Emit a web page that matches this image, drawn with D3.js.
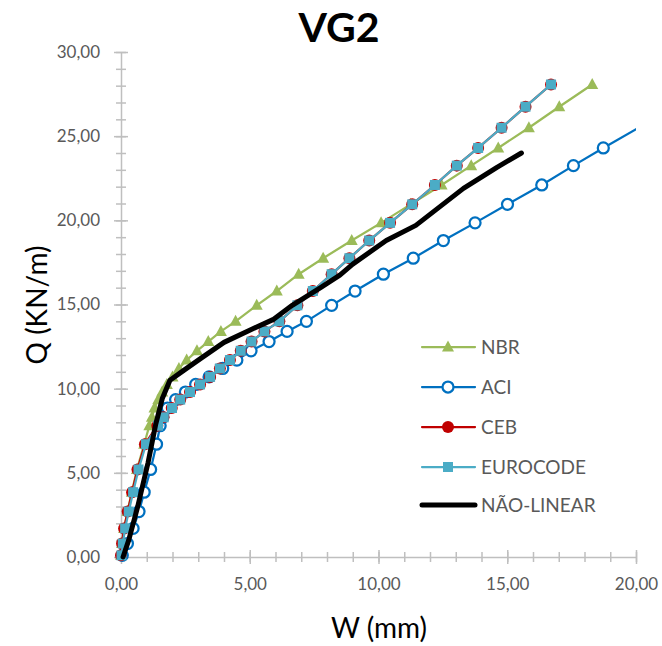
<!DOCTYPE html>
<html>
<head>
<meta charset="utf-8">
<script src="https://cdn.jsdelivr.net/npm/d3@7"></script>
<style>
  html, body { margin: 0; padding: 0; background: #fff; }
  svg { display: block; font-family: Lato, "Open Sans", sans-serif; }
</style>
</head>
<body>
<svg id="chart" width="662" height="646"></svg>
<script>
// ---- data ----
const loadQ = [0.1, 0.8, 1.7, 2.7, 3.85, 5.2, 6.7, 7.8, 8.3, 8.85, 9.35, 9.8, 10.25, 10.7, 11.2, 11.7, 12.25, 12.8, 13.4, 14.0, 14.95, 15.8, 16.8, 17.75, 18.8, 19.85, 20.95, 22.1, 23.25, 24.3, 25.5, 26.75, 28.07];
const nbrW = [0.0, 0.04, 0.12, 0.25, 0.42, 0.62, 0.9, 1.1, 1.2, 1.3, 1.45, 1.6, 1.78, 2.0, 2.25, 2.55, 2.95, 3.39, 3.88, 4.45, 5.27, 6.05, 6.9, 7.85, 8.96, 10.1, 11.25, 12.45, 13.6, 14.65, 15.84, 17.02, 18.3];
const aciW = [0.05, 0.25, 0.47, 0.70, 0.90, 1.15, 1.38, 1.52, 1.62, 1.80, 2.12, 2.50, 2.90, 3.42, 3.95, 4.50, 5.05, 5.75, 6.45, 7.20, 8.18, 9.09, 10.19, 11.35, 12.52, 13.75, 15.01, 16.34, 17.57, 18.73, 20.10, 21.55, 23.0];
const cebW = [0.0, 0.04, 0.12, 0.26, 0.43, 0.64, 0.93, 1.41, 1.65, 1.97, 2.30, 2.68, 3.07, 3.46, 3.84, 4.23, 4.65, 5.07, 5.57, 6.15, 6.85, 7.45, 8.18, 8.87, 9.64, 10.45, 11.31, 12.19, 13.04, 13.87, 14.78, 15.71, 16.70];
const euroW = [0.02, 0.07, 0.16, 0.30, 0.47, 0.68, 0.97, 1.44, 1.66, 1.98, 2.30, 2.68, 3.07, 3.46, 3.84, 4.23, 4.65, 5.07, 5.57, 6.15, 6.85, 7.45, 8.18, 8.87, 9.64, 10.45, 11.31, 12.19, 13.04, 13.87, 14.78, 15.71, 16.70];
const nlW = [0.08, 0.3, 0.65, 1.05, 1.35, 1.6, 1.9, 2.45, 3.1, 4.0, 5.1, 5.9, 6.65, 7.75, 8.5, 9.0, 10.3, 11.45, 12.25, 13.3, 14.6, 15.55];
const nlQ = [0.0, 1.0, 3.0, 5.6, 7.9, 9.4, 10.5, 11.1, 11.8, 12.75, 13.55, 14.1, 14.95, 16.0, 16.75, 17.4, 18.8, 19.7, 20.65, 21.9, 23.15, 24.0];
const seriesNames = ["NBR", "ACI", "CEB", "EUROCODE", "NÃO-LINEAR"];
const xTicks = [0, 5, 10, 15, 20];
const yTicks = [0, 5, 10, 15, 20, 25, 30];
const xMinorTicks = d3.range(0, 20.001, 1);
const yMinorTicks = d3.range(0, 30.001, 1);
const titleText = "VG2";
const xLabel = "W (mm)";
const yLabel = "Q (KN/m)";

// ---- setup ----
const svg = d3.select("#chart");
const x = d3.scaleLinear().domain([0, 20]).range([121, 636]);
const y = d3.scaleLinear().domain([0, 30]).range([557, 52]);
const loc = d3.formatLocale({decimal: ",", thousands: ".", grouping: [3], currency: ["", ""]});
const fmt = loc.format(".2f");
const axisColor = "#bfbfbf";
const textColor = "#595959";

// minor ticks
const minorX = d3.axisBottom(x).tickValues(xMinorTicks).tickSize(5).tickFormat("");
const gmx = svg.append("g").attr("transform", `translate(0,${y(0)})`).call(minorX);
gmx.select(".domain").remove();
gmx.selectAll(".tick line").attr("y1", -5).attr("y2", 5).attr("stroke", axisColor).attr("stroke-width", 1.5);
const minorY = d3.axisLeft(y).tickValues(yMinorTicks).tickSize(5).tickFormat("");
const gmy = svg.append("g").attr("transform", `translate(${x(0)},0)`).call(minorY);
gmy.select(".domain").remove();
gmy.selectAll(".tick line").attr("x1", 5).attr("x2", -5).attr("stroke", axisColor).attr("stroke-width", 1.5);

// major axes
const gx = svg.append("g").attr("transform", `translate(0,${y(0)})`)
  .call(d3.axisBottom(x).tickValues(xTicks).tickSize(7).tickSizeOuter(0).tickPadding(14).tickFormat(fmt));
gx.select(".domain").attr("stroke", axisColor).attr("stroke-width", 1.5);
gx.selectAll(".tick line").attr("y1", -7).attr("y2", 7).attr("stroke", axisColor).attr("stroke-width", 1.5);
gx.selectAll(".tick text").attr("fill", textColor).attr("font-size", 17).attr("font-family", "Lato, sans-serif");

const gy = svg.append("g").attr("transform", `translate(${x(0)},0)`)
  .call(d3.axisLeft(y).tickValues(yTicks).tickSize(7).tickSizeOuter(0).tickPadding(14).tickFormat(fmt));
gy.select(".domain").attr("stroke", axisColor).attr("stroke-width", 1.5);
gy.selectAll(".tick line").attr("x1", 7).attr("x2", -7).attr("stroke", axisColor).attr("stroke-width", 1.5);
gy.selectAll(".tick text").attr("fill", textColor).attr("font-size", 17).attr("font-family", "Lato, sans-serif");

// clip (right/top edges of plot area)
svg.append("defs").append("clipPath").attr("id", "plotclip")
  .append("rect").attr("x", 90).attr("y", 40).attr("width", x(20) - 90).attr("height", 540);

const plot = svg.append("g").attr("clip-path", "url(#plotclip)");
const line = d3.line().x(d => x(d[0])).y(d => y(d[1]));

const mk = (w, q) => w.map((v, i) => [v, q[i]]);
const series = [
  {name: seriesNames[0], data: mk(nbrW, loadQ), color: "#9bbb59", marker: "tri"},
  {name: seriesNames[1], data: mk(aciW, loadQ), color: "#0070c0", marker: "circleOpen"},
  {name: seriesNames[2], data: mk(cebW, loadQ), color: "#c00000", marker: "circle"},
  {name: seriesNames[3], data: mk(euroW, loadQ), color: "#4bacc6", marker: "square"},
  {name: seriesNames[4], data: mk(nlW, nlQ), color: "#000000", marker: "none"}
];

function drawMarker(g, type, color, cx, cy) {
  if (type === "tri") {
    g.append("path").attr("d", `M${cx},${cy - 6.5}L${cx + 6},${cy + 4.5}L${cx - 6},${cy + 4.5}Z`).attr("fill", color);
  } else if (type === "circleOpen") {
    g.append("circle").attr("cx", cx).attr("cy", cy).attr("r", 5.5).attr("fill", "#fff").attr("stroke", color).attr("stroke-width", 2.25);
  } else if (type === "circle") {
    g.append("circle").attr("cx", cx).attr("cy", cy).attr("r", 6).attr("fill", color);
  } else if (type === "square") {
    g.append("rect").attr("x", cx - 5).attr("y", cy - 5).attr("width", 10).attr("height", 10).attr("fill", color);
  }
}

series.forEach(s => {
  const g = plot.append("g");
  g.append("path").datum(s.data).attr("d", line).attr("fill", "none")
    .attr("stroke", s.color).attr("stroke-width", s.marker === "none" ? 5 : 2.25)
    .attr("stroke-linejoin", "round").attr("stroke-linecap", "round");
  if (s.marker !== "none") {
    s.data.filter(d => d[0] <= 20).forEach(d => drawMarker(g, s.marker, s.color, x(d[0]), y(d[1])));
  }
});

// legend
const legY = [347, 387, 427, 467, 505];
series.forEach((s, i) => {
  const g = svg.append("g");
  g.append("line").attr("x1", 422).attr("x2", 475).attr("y1", legY[i]).attr("y2", legY[i])
    .attr("stroke", s.color).attr("stroke-width", s.marker === "none" ? 5 : 2.25).attr("stroke-linecap", "round");
  drawMarker(g, s.marker, s.color, 448, legY[i]);
  g.append("text").attr("x", 481).attr("y", legY[i]).attr("dy", "0.35em")
    .attr("fill", textColor).attr("font-size", 19).text(s.name);
});

// title & axis labels
svg.append("text").attr("x", 339).attr("y", 42).attr("text-anchor", "middle")
  .attr("font-size", 41).attr("font-weight", "bold").attr("fill", "#000").text(titleText);
svg.append("text").attr("x", 379).attr("y", 628).attr("dy", "0.35em").attr("text-anchor", "middle")
  .attr("font-size", 28).attr("fill", "#000").text(xLabel);
svg.append("text").attr("transform", "translate(37,305) rotate(-90)").attr("dy", "0.35em").attr("text-anchor", "middle")
  .attr("font-size", 28).attr("fill", "#000").text(yLabel);
</script>
</body>
</html>
